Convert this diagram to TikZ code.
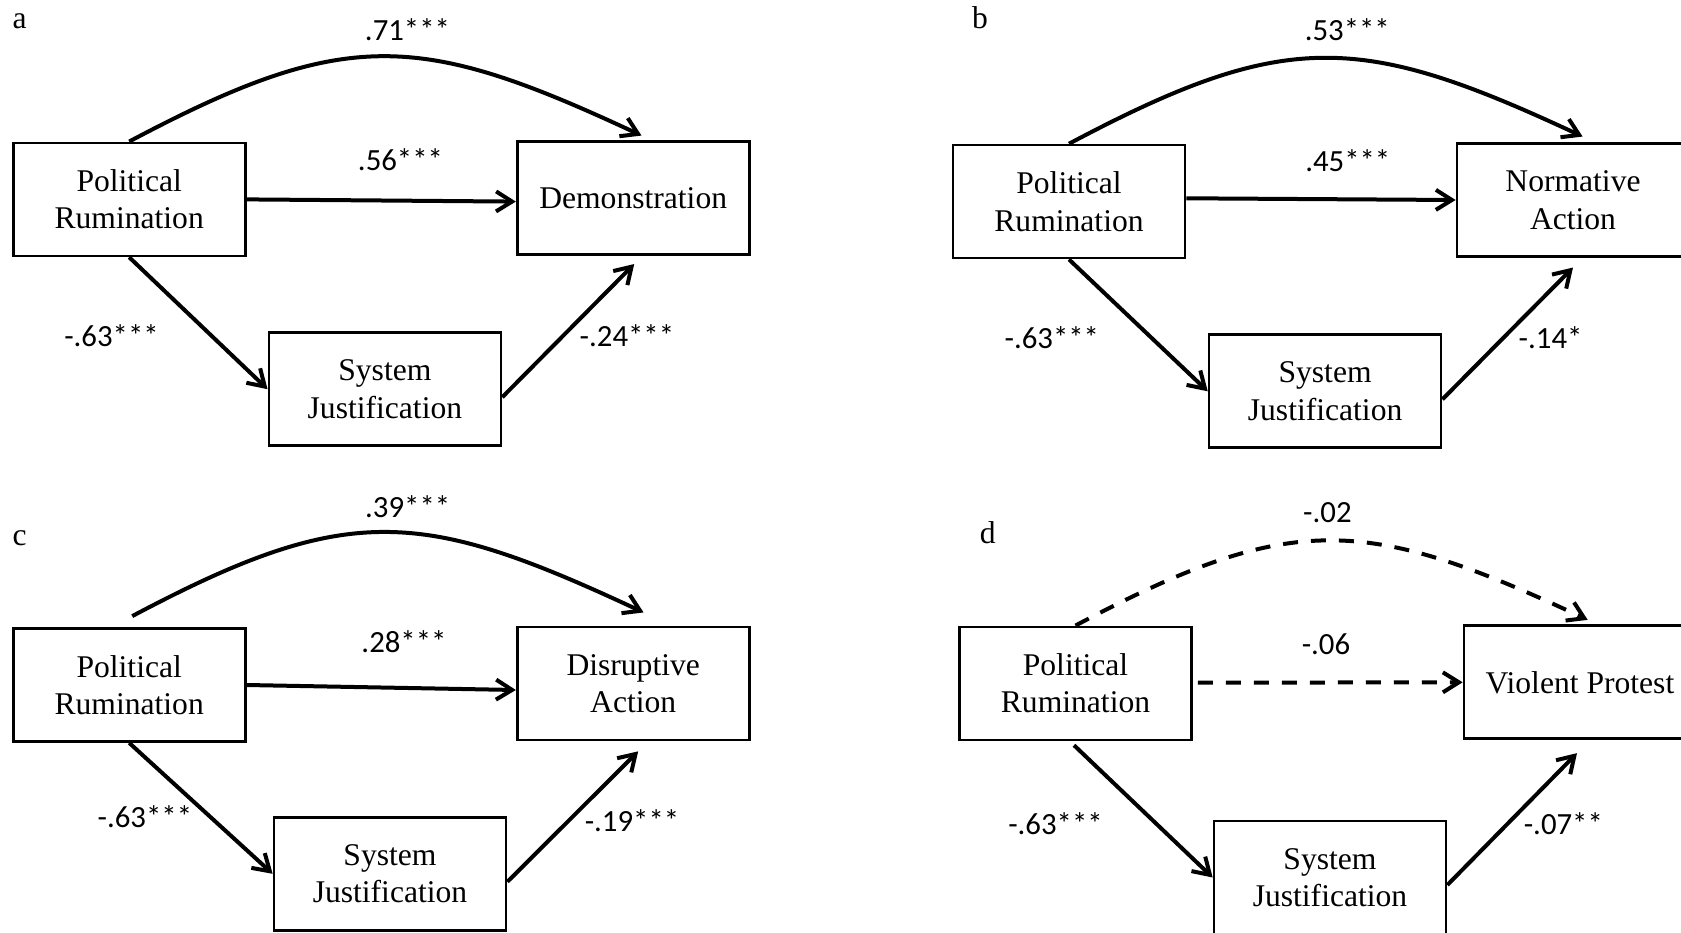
\documentclass[tikz,border=0pt]{standalone}
\usepackage{fontspec}
\setmainfont{Liberation Serif}
\newfontfamily\coeffont{Carlito}
\usetikzlibrary{arrows.meta,calc}
\begin{document}
\begin{tikzpicture}[x=1pt,y=1pt,
  varbox/.style={draw,line width=2.7pt,minimum width=232pt,minimum height=113pt,
    inner sep=0pt,align=center,font=\fontsize{31.6}{37.5}\selectfont},
  pathline/.style={line width=4pt,-{Straight Barb[length=16pt,width=20pt]}},
  nspath/.style={pathline,dash pattern=on 15pt off 13pt},
  coef/.style={inner sep=0pt,font=\coeffont\fontsize{30.8}{36}\selectfont},
  panellabel/.style={inner sep=0pt,anchor=base,font=\fontsize{31.6}{37.5}\selectfont}
]
\fill[white] (0,0) rectangle (1681,-933);
\useasboundingbox (0,0) rectangle (1681,-933);

% ---------- panel a: demonstration ----------
\node[panellabel] (la) at (19.7,-28.3) {a};
\node[varbox] (PRa) at (129.2,-199.4) {Political\\Rumination};
\node[varbox] (DEM) at (633.2,-198.2) {Demonstration};
\node[varbox] (SJa) at (384.9,-389.2) {System\\Justification};
\draw[pathline] (PRa.north) .. controls +(216.6,115) and +(-222.2,103.8) .. ($(DEM.north)+(8.3,4.8)$);
\draw[pathline] (PRa.east) -- ($(DEM.west)+(0,-3.4)$);
\draw[pathline] (PRa.south) -- (SJa.west);
\draw[pathline] ($(SJa.east)+(0,-8)$) -- ($(DEM.south)+(1,-8)$);
\node[coef] (ca1) at (407.5,-30) {.71***};
\node[coef] (ca2) at (400.5,-160) {.56***};
\node[coef] (ca3) at (111.5,-336) {-.63***};
\node[coef,anchor=west] (ca4) at (579.5,-336) {-.24***};

% ---------- panel b: normative action ----------
\node[panellabel] (lb) at (980,-28.3) {b};
\node[varbox] (PRb) at (1069,-201.6) {Political\\Rumination};
\node[varbox] (NA) at (1573,-200) {Normative\\Action};
\node[varbox] (SJb) at (1325.1,-391.3) {System\\Justification};
\draw[pathline] (PRb.north) .. controls +(216.6,115) and +(-222.2,103.8) .. ($(NA.north)+(9.6,5.6)$);
\draw[pathline] ($(PRb.east)+(0,3.3)$) -- (NA.west);
\draw[pathline] (PRb.south) -- (SJb.west);
\draw[pathline] ($(SJb.east)+(0,-8)$) -- ($(NA.south)+(0,-9.7)$);
\node[coef] (cb1) at (1347.3,-30) {.53***};
\node[coef] (cb2) at (1347.8,-160.5) {.45***};
\node[coef] (cb3) at (1051.8,-337.5) {-.63***};
\node[coef,anchor=west] (cb4) at (1518.5,-338) {-.14*};

% ---------- panel c: disruptive action ----------
\node[panellabel] (lc) at (19.7,-545) {c};
\node[varbox] (PRc) at (129.2,-685) {Political\\Rumination};
\node[varbox] (DA) at (633.2,-683.5) {Disruptive\\Action};
\node[varbox] (SJc) at (390,-873.8) {System\\Justification};
\draw[pathline] ($(PRc.north)+(3,11)$) .. controls +(216.6,115) and +(-222.2,103.8) .. ($(DA.north)+(10.4,13.2)$);
\draw[pathline] (PRc.east) -- ($(DA.west)+(0,-6.5)$);
\draw[pathline] (PRc.south) -- (SJc.west);
\draw[pathline] ($(SJc.east)+(0,-8)$) -- ($(DA.south)+(5,-10)$);
\node[coef] (cc1) at (407.7,-506.7) {.39***};
\node[coef] (cc2) at (404,-641.7) {.28***};
\node[coef] (cc3) at (144.9,-816.7) {-.63***};
\node[coef,anchor=west] (cc4) at (584.6,-821) {-.19***};

% ---------- panel d: violent protest ----------
\node[panellabel] (ld) at (987.7,-543.3) {d};
\node[varbox] (PRd) at (1075.5,-683.4) {Political\\Rumination};
\node[varbox] (VP) at (1580,-682.3) {Violent Protest};
\node[varbox] (SJd) at (1330,-877.5) {System\\Justification};
\draw[nspath] (PRd.north) .. controls +(216.6,115) and +(-222.2,103.8) .. ($(VP.north)+(7.7,4.6)$);
\draw[nspath] ($(PRd.east)+(5,0.7)$) -- (VP.west);
\draw[pathline] ($(PRd.south)+(-1.5,-4)$) -- (SJd.west);
\draw[pathline] ($(SJd.east)+(0,-7.5)$) -- ($(VP.south)+(-3,-13)$);
\node[coef] (cd1) at (1327.4,-513) {-.02};
\node[coef] (cd2) at (1326,-644) {-.06};
\node[coef] (cd3) at (1055.5,-823.3) {-.63***};
\node[coef,anchor=west] (cd4) at (1523.6,-823.3) {-.07**};
\end{tikzpicture}
\end{document}
